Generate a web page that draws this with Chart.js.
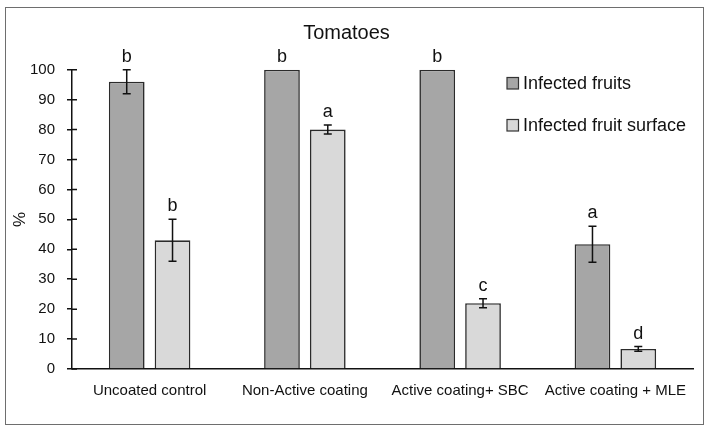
<!DOCTYPE html>
<html>
<head>
<meta charset="utf-8">
<script src="https://cdn.jsdelivr.net/npm/chart.js@4/dist/chart.umd.min.js"></script>
<style>
  html, body { margin: 0; padding: 0; background: #fff; }
  #wrap { position: relative; width: 711px; height: 432px; }
  #frame {
    position: absolute; left: 5px; top: 7px; width: 697px; height: 416px;
    border: 1.5px solid #6e6e6e; pointer-events: none;
  }
</style>
</head>
<body>
<div id="wrap">
  <canvas id="chart" width="711" height="432"></canvas>
  <div id="frame"></div>
</div>
<script>
// data
const categories = ["Uncoated control", "Non-Active coating", "Active coating+ SBC", "Active coating + MLE"];
const fruitsValues = [96, 100, 100, 41.7];
const fruitsErrors = [4, 0, 0, 6];
const fruitsLetters = ["b", "b", "b", "a"];
const surfaceValues = [43, 80, 22, 6.7];
const surfaceErrors = [7, 1.5, 1.5, 0.8];
const surfaceLetters = ["b", "a", "c", "d"];
const yTicks = [0, 10, 20, 30, 40, 50, 60, 70, 80, 90, 100];

const FONT = "'Liberation Sans', Arial, sans-serif";
const INK = "#111";

// error bars, letters, inner tick marks, legend
const extras = {
  id: "extras",
  afterDatasetsDraw(chart) {
    const c = chart.ctx;
    const y = chart.scales.y;
    const errs = [fruitsErrors, surfaceErrors];
    const letters = [fruitsLetters, surfaceLetters];
    c.save();
    c.strokeStyle = INK;
    c.lineWidth = 1.5;
    chart.data.datasets.forEach((ds, di) => {
      chart.getDatasetMeta(di).data.forEach((bar, i) => {
        const v = ds.data[i];
        const e = errs[di][i];
        let top = y.getPixelForValue(v);
        if (e > 0) {
          const y1 = y.getPixelForValue(v + e);
          const y2 = y.getPixelForValue(v - e);
          c.beginPath();
          c.moveTo(bar.x, y1); c.lineTo(bar.x, y2);
          c.moveTo(bar.x - 4, y1); c.lineTo(bar.x + 4, y1);
          c.moveTo(bar.x - 4, y2); c.lineTo(bar.x + 4, y2);
          c.stroke();
          top = y1;
        }
        c.fillStyle = INK;
        c.font = "18px " + FONT;
        c.textAlign = "center";
        c.textBaseline = "alphabetic";
        c.fillText(letters[di][i], bar.x, top - 8);
      });
    });
    // ticks crossing the y axis
    c.beginPath();
    yTicks.forEach(t => {
      const py = y.getPixelForValue(t);
      c.moveTo(y.right, py); c.lineTo(y.right + 5, py);
    });
    c.stroke();
    // legend
    c.font = "18px " + FONT;
    c.textAlign = "left";
    chart.data.datasets.forEach((ds, i) => {
      const ly = 77.5 + i * 42;
      c.fillStyle = ds.backgroundColor;
      c.fillRect(507, ly, 11.5, 11.5);
      c.strokeStyle = "#333";
      c.lineWidth = 1.2;
      c.strokeRect(507, ly, 11.5, 11.5);
      c.fillStyle = INK;
      c.fillText(ds.label, 523, ly + 11);
    });
    c.restore();
  }
};

new Chart(document.getElementById("chart"), {
  type: "bar",
  data: {
    labels: categories,
    datasets: [
      {
        label: "Infected fruits",
        data: fruitsValues,
        backgroundColor: "#a6a6a6",
        borderColor: "#2b2b2b",
        borderWidth: 1.6,
        categoryPercentage: 0.59,
        barPercentage: 0.78
      },
      {
        label: "Infected fruit surface",
        data: surfaceValues,
        backgroundColor: "#d9d9d9",
        borderColor: "#2b2b2b",
        borderWidth: 1.6,
        categoryPercentage: 0.59,
        barPercentage: 0.78
      }
    ]
  },
  options: {
    responsive: false,
    animation: false,
    devicePixelRatio: 1,
    layout: { padding: { left: 0, right: 18, top: 0, bottom: 0 } },
    plugins: {
      legend: { display: false },
      tooltip: { enabled: false },
      title: {
        display: true,
        text: "Tomatoes",
        color: INK,
        font: { family: FONT, size: 20, weight: "normal", lineHeight: 1.2 },
        padding: { top: 21.5, bottom: 24.2 }
      }
    },
    scales: {
      x: {
        grid: { display: false, drawTicks: false },
        border: { display: true, color: INK, width: 1.5 },
        ticks: { color: INK, font: { family: FONT, size: 15 }, padding: 13, maxRotation: 0 },
        afterFit(scale) { scale.height = 63; }
      },
      y: {
        min: 0,
        max: 100,
        afterBuildTicks(scale) { scale.ticks = yTicks.map(v => ({ value: v })); },
        grid: { drawOnChartArea: false, drawTicks: true, tickLength: 5, color: INK, lineWidth: 1.5 },
        border: { display: true, color: INK, width: 1.5 },
        ticks: { color: INK, font: { family: FONT, size: 15 }, padding: 12 },
        title: {
          display: true,
          text: "%",
          color: INK,
          font: { family: FONT, size: 17 },
          padding: { top: 9.8, bottom: 0 }
        },
        afterFit(scale) { scale.width = 72; }
      }
    }
  },
  plugins: [extras]
});
</script>
</body>
</html>
